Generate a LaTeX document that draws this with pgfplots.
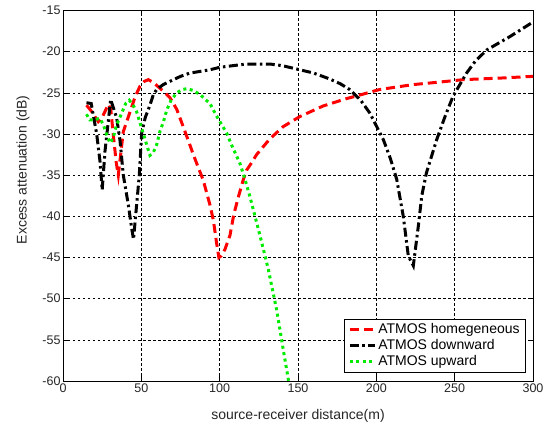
\documentclass[border=0pt]{standalone}
\usepackage{pgfplots}
\pgfplotsset{compat=1.18}
\usepackage{fontspec}
\setmainfont{Liberation Sans}
\begin{document}
\begin{tikzpicture}
\begin{axis}[
  at={(0,0)}, anchor=south west,
  scale only axis, width=470pt, height=370.5pt,
  xmin=0, xmax=300, ymin=-60, ymax=-15,
  xtick={0,50,...,300}, ytick={-60,-55,...,-15},
  tick align=inside, tick pos=both, major tick length=5pt,
  grid=major,
  major grid style={black, line width=0.6pt, dash pattern=on 2.5pt off 2.5pt},
  axis line style={black, line width=0.7pt},
  tick style={black, line width=0.6pt},
  /pgf/number format/assume math mode=true,
  tick label style={font=\fontsize{12.5}{14}\selectfont, text=black!85},
  xticklabel style={yshift=1pt},
  yticklabel style={xshift=1pt},
  label style={font=\fontsize{14}{16}\selectfont, text=black!85},
  xlabel={source-receiver distance(m)},
  ylabel={Excess attenuation (dB)},
  xlabel style={at={(axis description cs:0.5,0)}, yshift=-25pt, anchor=north},
  ylabel style={at={(axis description cs:-0.085,0.57)}, anchor=center},
  legend style={at={(0.985,0.024)}, anchor=south east, draw=black, line width=0.6pt,
    font=\fontsize{14}{16}\selectfont, row sep=0.5pt, inner xsep=4pt, inner ysep=2.5pt,
    nodes={inner sep=2pt}},
  legend cell align=left,
  legend image code/.code={\draw[#1] (0pt,0pt) -- (25pt,0pt);},
  clip=true,
]
\addplot[color={rgb,255:red,255;green,0;blue,0}, line width=3pt, dash pattern=on 9pt off 5pt] coordinates {
(15,-26.5) (18,-27.2) (22.5,-28.5) (25,-28) (28.9,-26.4) (30.5,-27) (32.1,-30.1) (34,-33.5) (35.3,-35) (36.5,-33) (38.5,-29.7) (42.8,-27.3) (46,-25.5) (49.1,-24.2) (52,-23.6) (54.5,-23.4) (58,-23.8) (64,-24.8) (68.3,-25.6) (72.6,-27.0) (76.7,-29.1) (80,-30.8) (83,-32.4) (86,-33.9) (89.5,-35.6) (93.8,-38.6) (96,-40.5) (98,-43.2) (99.5,-45) (101,-44.8) (103.4,-44.0) (106.6,-42.3) (109,-39.8) (112,-37.6) (115,-35.6) (117.2,-34.4) (120,-33.6) (123.6,-32.5) (128,-31.5) (132,-30.6) (140.6,-29.1) (151,-27.9) (166,-26.6) (181,-25.7) (187,-25.4) (202,-24.6) (223.5,-24.0) (240,-23.7) (255.5,-23.4) (280,-23.2) (300,-23.0)
};
\addlegendentry{ATMOS homegeneous}
\addplot[black, line width=3pt, dash pattern=on 9pt off 3.5pt on 2.5pt off 3.5pt] coordinates {
(15,-26.2) (18,-26.3) (21.5,-30) (23.6,-33.3) (25,-36.8) (26.8,-32.1) (28.9,-28.5) (30.4,-25.8) (32.5,-27) (34.3,-28.1) (36.4,-30.8) (38.5,-35) (41.7,-38.6) (43.8,-41.4) (45,-42.8) (47,-38.6) (48.7,-35) (50.2,-29.9) (52.5,-28) (55.5,-26.5) (57.7,-25.2) (59.8,-24.6) (64,-24) (68.3,-23.6) (75,-23) (81,-22.6) (93.8,-22.2) (100,-21.9) (117,-21.5) (132,-21.5) (140,-21.7) (149,-22.1) (160,-22.6) (170,-23.3) (177,-23.9) (183,-24.6) (190,-25.9) (196,-27.5) (204.5,-30.7) (209,-33) (213,-35.5) (217.2,-40) (220.4,-44.8) (223.6,-46) (226.8,-41.2) (229,-37.5) (232,-34.7) (238.5,-30.7) (244,-27.8) (249,-25.4) (257.6,-22.6) (263,-21.2) (270.4,-19.8) (285,-18.2) (300,-16.4)
};
\addlegendentry{ATMOS downward}
\addplot[color={rgb,255:red,0;green,235;blue,0}, line width=3pt, dash pattern=on 3pt off 3.5pt] coordinates {
(15,-27.6) (17,-28.3) (19.3,-28.3) (23.6,-28.1) (26,-29) (27.9,-30.1) (30,-31.1) (32,-30.5) (34,-29) (37.4,-27.5) (40,-26.3) (42.3,-25.9) (44.5,-26.4) (47,-27.3) (50.2,-29.3) (53.4,-31.3) (55.5,-32.6) (57.5,-32.3) (59.8,-31.3) (62,-29.6) (64,-28.6) (66.2,-27.1) (69,-25.9) (72.6,-25) (76,-24.6) (79,-24.5) (83,-24.7) (87.4,-25.2) (93.8,-26.3) (98,-27.8) (104.5,-29.9) (108,-31.5) (113,-33.6) (116,-35.4) (119.3,-37.6) (125.7,-42.3) (131,-46.4) (136.3,-51.3) (140.6,-56.2) (144,-60)
};
\addlegendentry{ATMOS upward}
\end{axis}
\pgfresetboundingbox
\path[use as bounding box] (-63pt,-46pt) rectangle (486pt,381pt);
\end{tikzpicture}
\end{document}
